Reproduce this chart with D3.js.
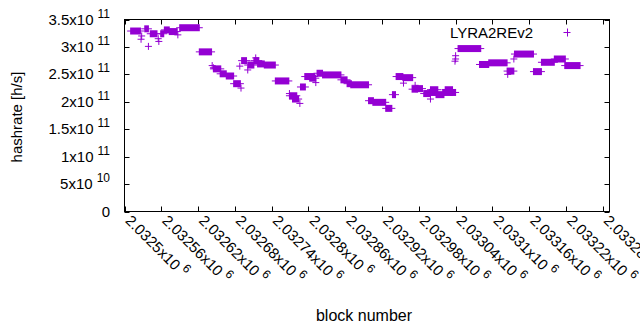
<!DOCTYPE html>
<html>
<head>
<meta charset="utf-8">
<script src="https://cdn.jsdelivr.net/npm/d3@7"></script>
<style>
  body { margin: 0; background: #fff; }
  text { font-family: "Liberation Sans", Arial, sans-serif; fill: #000; }
</style>
</head>
<body>
<div id="chart"></div>
<script>
// runs of equal hashrate: first block, last block, value [h/s]
const runStart = [2032510, 2032528, 2032527, 2032533, 2032539, 2032542, 2032555, 2032556, 2032559, 2032565,
  2032573, 2032587, 2032590, 2032622, 2032643, 2032645, 2032645, 2032656, 2032666, 2032678,
  2032690, 2032688, 2032691, 2032701, 2032701, 2032714, 2032711, 2032717, 2032728, 2032746,
  2032769, 2032769, 2032774, 2032786, 2032787, 2032794, 2032802, 2032812, 2032814, 2032823,
  2032853, 2032863, 2032869, 2032898, 2032905, 2032926, 2032937, 2032943, 2032954, 2032955,
  2032969, 2032974, 2032975, 2032988, 2032997, 2032999, 2032999, 2033008, 2033019, 2033023,
  2033032, 2033039, 2033040, 2033040, 2033044, 2033079, 2033094, 2033124, 2033125, 2033135,
  2033136, 2033167, 2033180, 2033201, 2033218];
const runEnd = [2032526, 2032528, 2032527, 2032539, 2032539, 2032553, 2032555, 2032556, 2032564, 2032573,
  2032586, 2032587, 2032622, 2032642, 2032643, 2032645, 2032657, 2032666, 2032678, 2032689,
  2032690, 2032688, 2032699, 2032701, 2032711, 2032714, 2032719, 2032728, 2032746, 2032768,
  2032769, 2032781, 2032784, 2032786, 2032795, 2032810, 2032812, 2032812, 2032823, 2032853,
  2032863, 2032870, 2032898, 2032906, 2032926, 2032936, 2032942, 2032954, 2032970, 2032955,
  2032978, 2032974, 2032986, 2032999, 2033008, 2032999, 2033011, 2033021, 2033035, 2033035,
  2033040, 2033039, 2033040, 2033040, 2033081, 2033094, 2033124, 2033135, 2033125, 2033135,
  2033167, 2033180, 2033201, 2033219, 2033243];
const runValue = [3.29e11, 3.20e11, 3.14e11, 3.33e11, 3.01e11, 3.24e11, 3.15e11, 3.10e11, 3.24e11, 3.31e11,
  3.28e11, 3.22e11, 3.35e11, 2.91e11, 2.66e11, 2.62e11, 2.60e11, 2.51e11, 2.47e11, 2.33e11,
  2.25e11, 2.65e11, 2.75e11, 2.58e11, 2.67e11, 2.80e11, 2.75e11, 2.69e11, 2.67e11, 2.38e11,
  2.15e11, 2.11e11, 2.05e11, 1.97e11, 2.27e11, 2.46e11, 2.43e11, 2.35e11, 2.52e11, 2.49e11,
  2.40e11, 2.33e11, 2.31e11, 2.02e11, 1.99e11, 1.88e11, 2.13e11, 2.46e11, 2.44e11, 2.34e11,
  2.23e11, 2.30e11, 2.24e11, 2.15e11, 2.17e11, 2.05e11, 2.22e11, 2.13e11, 2.17e11, 2.22e11,
  2.17e11, 2.74e11, 2.78e11, 2.84e11, 2.97e11, 2.68e11, 2.71e11, 2.56e11, 2.50e11, 2.78e11,
  2.87e11, 2.55e11, 2.72e11, 2.78e11, 2.66e11];

const xTicks = [2032500, 2032560, 2032620, 2032680, 2032740, 2032800, 2032860,
  2032920, 2032980, 2033040, 2033100, 2033160, 2033220, 2033280];
const yTicks = [0, 0.5e11, 1e11, 1.5e11, 2e11, 2.5e11, 3e11, 3.5e11];
const seriesName = "LYRA2REv2";

const width = 640, height = 330;
const mLeft = 124.5, mRight = 609.5, mTop = 19.5, mBottom = 211.5;
const color = "#9400d3";
const ps = 3.5; // half size of the plus marker

var svg = d3.select("#chart").append("svg")
  .attr("width", width).attr("height", height);

var x = d3.scaleLinear().domain([2032500, 2033291]).range([mLeft, mRight]);
var y = d3.scaleLinear().domain([0, 3.5e11]).range([mBottom, mTop]);

// tick label split into mantissa / exponent like gnuplot's "x10^{n}"
function sci(v) {
  if (v === 0) return ["0", null];
  var e = Math.floor(Math.log10(v));
  var m = +(v / Math.pow(10, e)).toFixed(5);
  return [m + "x10", String(e)];
}

// ticks (inward, mirrored)
var tk = svg.append("g").attr("stroke", "#000").attr("stroke-width", 1);
yTicks.forEach(v => {
  var yy = Math.round(y(v)) + 0.5;
  tk.append("line").attr("x1", mLeft).attr("x2", mLeft + 5).attr("y1", yy).attr("y2", yy);
  tk.append("line").attr("x1", mRight - 5).attr("x2", mRight).attr("y1", yy).attr("y2", yy);
});
xTicks.forEach(v => {
  var xx = Math.round(x(v)) + 0.5;
  tk.append("line").attr("x1", xx).attr("x2", xx).attr("y1", mBottom).attr("y2", mBottom - 5);
  tk.append("line").attr("x1", xx).attr("x2", xx).attr("y1", mTop).attr("y2", mTop + 5);
});

// y tick labels
yTicks.forEach(v => {
  var s = sci(v);
  var t = svg.append("text")
    .attr("x", 110).attr("y", y(v) + 5)
    .attr("text-anchor", "end")
    .style("font-size", "15px");
  t.append("tspan").text(s[0]);
  if (s[1]) t.append("tspan").attr("dx", 4).attr("dy", -7).style("font-size", "12px").text(s[1]);
});

// x tick labels, rotated (the last one runs off the right edge, as in gnuplot)
xTicks.forEach(v => {
  var s = sci(v);
  var t = svg.append("text")
    .attr("transform", `translate(${x(v)},${mBottom + 10}) rotate(45)`)
    .style("font-size", "15px");
  t.append("tspan").text(s[0]);
  t.append("tspan").attr("dx", 4).attr("dy", -7).style("font-size", "12px").text(s[1]);
});

// data: each run drawn as a row of plus markers
var runs = d3.range(runStart.length).map(i => ({ s: runStart[i], e: runEnd[i], v: runValue[i] }));
var g = svg.append("g");
g.selectAll("rect.run").data(runs).enter().append("rect")
  .attr("class", "run")
  .attr("x", d => x(d.s) - 0.5)
  .attr("width", d => x(d.e) - x(d.s) + 1)
  .attr("y", d => y(d.v) - ps)
  .attr("height", 2 * ps)
  .attr("fill", color);
g.selectAll("line.run").data(runs).enter().append("line")
  .attr("class", "run")
  .attr("x1", d => x(d.s) - ps).attr("x2", d => x(d.e) + ps)
  .attr("y1", d => y(d.v)).attr("y2", d => y(d.v))
  .attr("stroke", color).attr("stroke-width", 1);

// border
svg.append("rect")
  .attr("x", mLeft).attr("y", mTop)
  .attr("width", mRight - mLeft).attr("height", mBottom - mTop)
  .attr("fill", "none").attr("stroke", "#000").attr("stroke-width", 1);

// key
svg.append("text").attr("x", 533).attr("y", 38).attr("text-anchor", "end")
  .style("font-size", "15px").text(seriesName);
svg.append("path")
  .attr("d", `M${567 - ps},32.5H${567 + ps}M567.5,${32 - ps}V${33 + ps}`)
  .attr("stroke", color).attr("stroke-width", 1);

// axis titles
svg.append("text").attr("x", 364).attr("y", 321).attr("text-anchor", "middle")
  .style("font-size", "16px").text("block number");
svg.append("text").attr("transform", "translate(22,117) rotate(-90)")
  .attr("text-anchor", "middle").style("font-size", "15px").text("hashrate [h/s]");
</script>
</body>
</html>
